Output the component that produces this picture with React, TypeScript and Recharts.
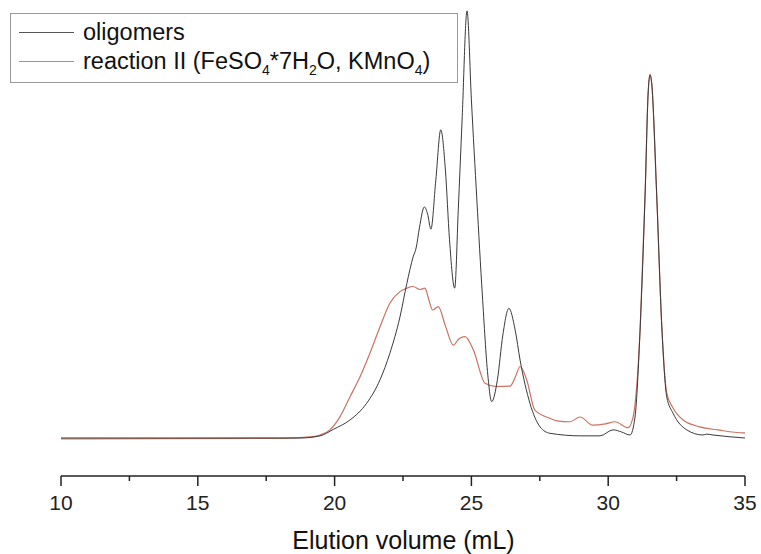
import React from 'react';
import { LineChart, Line, XAxis, YAxis } from 'recharts';

// elution volume (mL) and normalized detector signal
const oligomersX = [
  10, 14, 18, 18.74, 19.47, 19.95, 20.56, 21.17, 21.66, 22.02, 22.39, 22.64, 22.87, 22.98,
  23.1, 23.28, 23.4, 23.52, 23.7, 23.88, 24.05, 24.2, 24.39, 24.52, 24.66, 24.84, 25.0, 25.2, 25.4,
  25.6, 25.74, 25.95, 26.15, 26.37, 26.6, 26.78, 27.14, 27.51, 27.87, 29.0, 29.7, 30.18, 30.49,
  30.8, 30.98, 31.17, 31.35, 31.46, 31.53, 31.59, 31.77, 31.96, 32.14, 32.37, 32.87, 33.46, 33.6,
  33.83, 35,
];
const oligomersY = [
  0, 0, 0, 0, 0.005, 0.02, 0.042, 0.081, 0.136, 0.198, 0.283, 0.361, 0.423, 0.444,
  0.491, 0.54, 0.523, 0.488, 0.603, 0.72, 0.626, 0.463, 0.35, 0.533, 0.743, 0.998, 0.79, 0.556, 0.334,
  0.147, 0.085, 0.136, 0.241, 0.303, 0.252, 0.182, 0.081, 0.026, 0.011, 0.005, 0.005, 0.019, 0.014,
  0.007, 0.049, 0.259, 0.572, 0.806, 0.848, 0.829, 0.572, 0.259, 0.096, 0.058, 0.019, 0.007, 0.009,
  0.007, 0,
];

const reactionX = [
  10, 18, 19.21, 19.47, 19.83, 20.2, 20.56, 20.93, 21.29, 21.66, 22.02, 22.39, 22.64, 22.87, 23.12,
  23.3, 23.45, 23.58, 23.79, 24.05, 24.34, 24.55, 24.77, 25.07, 25.5, 25.92, 26.41, 26.62, 26.78,
  27.02, 27.32, 27.87, 28.13, 28.6, 28.97, 29.44, 29.9, 30.25, 30.72, 30.91, 31.17, 31.35, 31.46,
  31.53, 31.59, 31.77, 31.96, 32.14, 32.37, 32.74, 33.35, 34.0, 34.93, 35,
];
const reactionY = [
  -0.002, -0.001, 0.003, 0.007, 0.019, 0.05, 0.096, 0.143, 0.198, 0.26, 0.315, 0.342, 0.35, 0.354, 0.347,
  0.35, 0.322, 0.299, 0.307, 0.262, 0.217, 0.232, 0.237, 0.206, 0.128, 0.12, 0.121, 0.145, 0.167,
  0.136, 0.065, 0.046, 0.04, 0.038, 0.049, 0.03, 0.033, 0.038, 0.024, 0.049, 0.259, 0.572, 0.806,
  0.85, 0.829, 0.572, 0.259, 0.105, 0.07, 0.042, 0.026, 0.019, 0.012, 0.012,
];

const xTicks = [10, 12.5, 15, 17.5, 20, 22.5, 25, 27.5, 30, 32.5, 35];

const oligomers = oligomersX.map((x, i) => ({ x, y: oligomersY[i] }));
const reaction = reactionX.map((x, i) => ({ x, y: reactionY[i] }));

const FONT = '"Liberation Sans", Arial, Helvetica, sans-serif';

function AxisTick(props: any) {
  const { x, y, payload } = props;
  const major = payload.value % 5 === 0;
  return (
    <g>
      <line x1={x} y1={y} x2={x} y2={y + (major ? 10 : 5)} stroke="#222" strokeWidth={1.5} />
      {major && (
        <text x={x} y={y + 34} textAnchor="middle" fontSize={21} fontFamily={FONT} fill="#222">
          {payload.value}
        </text>
      )}
    </g>
  );
}

function LegendBox() {
  const sub = { fontSize: 14, verticalAlign: 'sub', lineHeight: 0 } as React.CSSProperties;
  const row = { display: 'flex', alignItems: 'center', height: 29 } as React.CSSProperties;
  const swatch = (c: string) => (
    <span style={{ display: 'inline-block', width: 55, height: 0, borderTop: `1px solid ${c}`, marginLeft: 8, marginRight: 9 }} />
  );
  return (
    <div
      style={{
        position: 'absolute',
        left: 10,
        top: 13,
        border: '1.5px solid #999',
        width: 448,
        height: 70,
        boxSizing: 'border-box',
        paddingTop: 4,
        fontFamily: FONT,
        fontSize: 23.5,
        color: '#111',
        background: '#fff',
      }}
    >
      <div style={row}>
        {swatch('#555')}
        <span>oligomers</span>
      </div>
      <div style={row}>
        {swatch('#d08070')}
        <span>
          reaction II (FeSO<span style={sub}>4</span>*7H<span style={sub}>2</span>O, KMnO<span style={sub}>4</span>)
        </span>
      </div>
    </div>
  );
}

export default function App() {
  return (
    <div style={{ position: 'absolute', left: 0, top: 0, width: 761, height: 554, background: '#fff' }}>
      <LineChart width={761} height={554} margin={{ top: 10, right: 16, left: 61, bottom: 0 }}>
        <XAxis
          type="number"
          dataKey="x"
          domain={[10, 35]}
          ticks={xTicks}
          interval={0}
          allowDataOverflow
          axisLine={{ stroke: '#222', strokeWidth: 1.5 }}
          tickLine={false}
          tickSize={0}
          tickMargin={0}
          tick={<AxisTick />}
          height={78}
        />
        <YAxis type="number" hide domain={[-0.0888, 1.0]} allowDataOverflow />
        <Line
          data={reaction}
          dataKey="y"
          type="monotone"
          stroke="#cc7262"
          strokeWidth={1.2}
          dot={false}
          isAnimationActive={false}
        />
        <Line
          data={oligomers}
          dataKey="y"
          type="monotone"
          stroke="#3a3a3a"
          strokeWidth={1}
          dot={false}
          isAnimationActive={false}
        />
      </LineChart>
      <LegendBox />
      <div
        style={{
          position: 'absolute',
          left: 0,
          width: 761,
          top: 526,
          textAlign: 'center',
          paddingLeft: 46,
          boxSizing: 'border-box',
          fontFamily: FONT,
          fontSize: 25,
          color: '#111',
        }}
      >
        Elution volume (mL)
      </div>
    </div>
  );
}
